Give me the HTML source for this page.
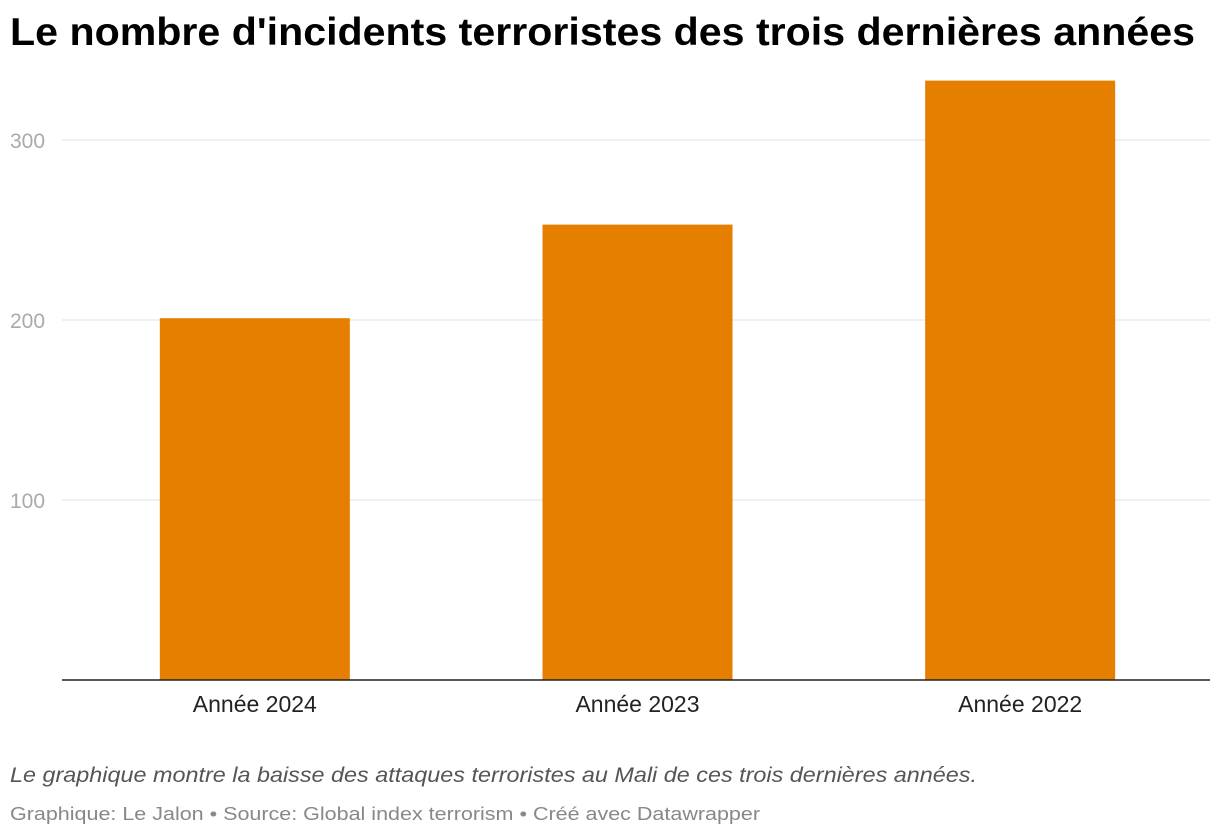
<!DOCTYPE html>
<html><head><meta charset="utf-8"><style>
body{margin:0;background:#fff;width:1220px;height:838px;overflow:hidden;font-family:"Liberation Sans",Arial,sans-serif;}
.fit{position:absolute;left:10px;white-space:nowrap;transform-origin:0 0;margin:0}
#title{top:11px;font-size:39px;font-weight:bold;color:#000;}
#caption{top:764px;font-size:21px;font-style:italic;color:#555;}
#footer{top:803px;font-size:18.5px;color:#888;}
svg{position:absolute;left:0;top:0}
</style></head><body>
<svg id="chart" width="1220" height="838"></svg>
<h1 id="title" class="fit" data-w="1185">Le nombre d'incidents terroristes des trois dernières années</h1>
<div id="caption" class="fit" data-w="967">Le graphique montre la baisse des attaques terroristes au Mali de ces trois dernières années.</div>
<div id="footer" class="fit" data-w="750">Graphique: Le Jalon • Source: Global index terrorism • Créé avec Datawrapper</div>
<script>
const categories=["Année 2024","Année 2023","Année 2022"];
const values=[201,253,333];
const ticks=[100,200,300];
const NS="http://www.w3.org/2000/svg";
const svg=document.getElementById('chart');
const x0=62,x1=1210,yBase=680,pxPer=1.8;
const y=v=>yBase-v*pxPer;
const band=(x1-x0)/categories.length, bw=190;
function mk(t,a){const e=document.createElementNS(NS,t);for(const k in a)e.setAttribute(k,a[k]);svg.appendChild(e);return e;}
ticks.forEach(t=>{
 const l=mk('line',{x1:x0,x2:x1,y1:y(t),y2:y(t),stroke:'#e0e0e0','stroke-width':1});
 
 
 const tx=mk('text',{x:10,y:y(t)+8,'font-size':21,fill:'#aaa','font-family':'Liberation Sans, Arial, sans-serif'});
 tx.textContent=t;
 
 
});
categories.forEach((c,i)=>{
 const cx=x0+band*(i+0.5)+1.5;
 const r=mk('rect',{x:cx-bw/2,y:y(values[i]),width:bw,height:yBase-y(values[i]),fill:'#e67e00'});
 
 
 const t=mk('text',{x:cx,y:712,'text-anchor':'middle','font-size':23,fill:'#222','font-family':'Liberation Sans, Arial, sans-serif'});
 t.textContent=c;
 
 
});
const b=mk('line',{x1:x0,x2:x1,y1:yBase,y2:yBase,stroke:'#222','stroke-width':1.5});


document.querySelectorAll('.fit').forEach(el=>{
 const w=el.getBoundingClientRect().width;
 el.style.transform='scaleX('+(parseFloat(el.dataset.w)/w)+')';
});
</script>
</body></html>
